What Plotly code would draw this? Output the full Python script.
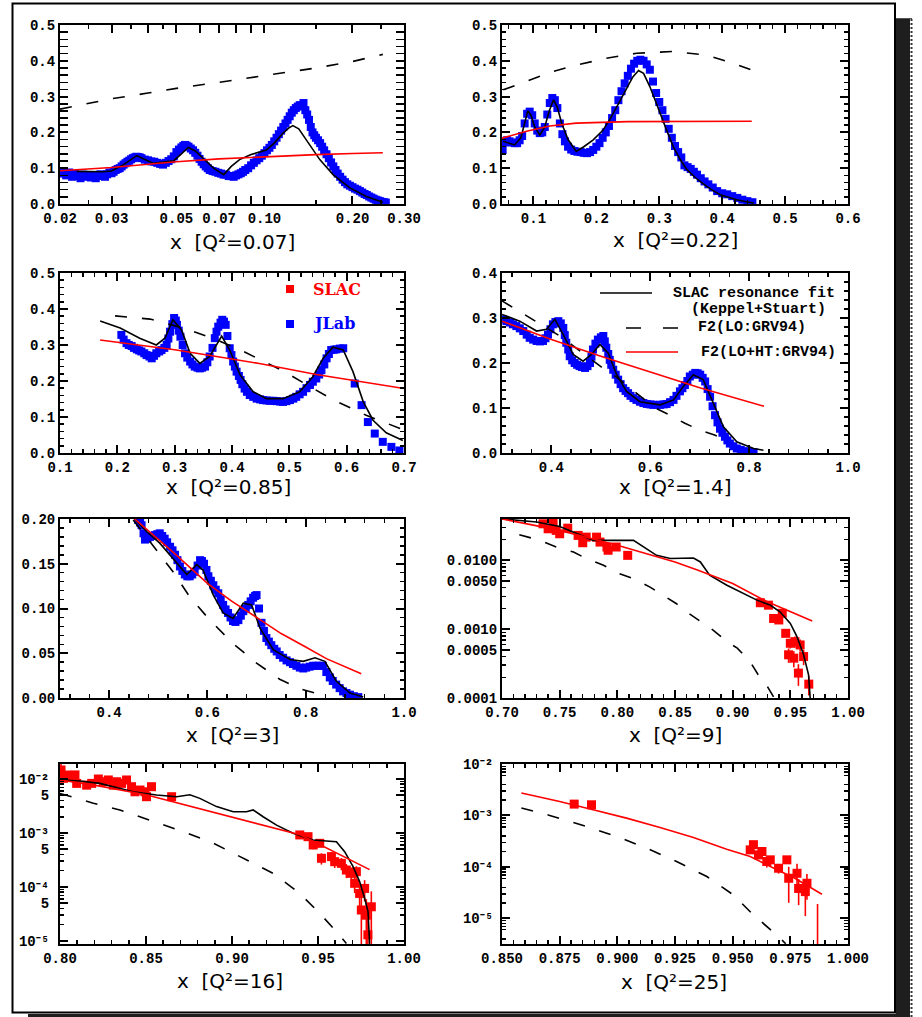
import plotly.graph_objects as go
import math

W, H = 922, 1017

# ---------------- data ----------------
# Panel 1 : Q2 = 0.07
p1_jlab_x = [0.0200,0.0205,0.0210,0.0215,0.0220,0.0225,0.0230,0.0235,0.0240,0.0245,0.0250,0.0255,0.0260,0.0265,0.0270,0.0275,0.0280,0.0285,0.0290,0.0295,0.0300,0.0305,0.0310,0.0315,0.0320,0.0325,0.0330,0.0335,0.0340,0.0345,0.0350,0.0355,0.0360,0.0365,0.0370,0.0375,0.0380,0.0390,0.0400,0.0410,0.0420,0.0430,0.0440,0.0450,0.0460,0.0470,0.0480,0.0490,0.0500,0.0510,0.0520,0.0528,0.0535,0.0542,0.0550,0.0560,0.0570,0.0580,0.0590,0.0600,0.0610,0.0620,0.0630,0.0640,0.0650,0.0665,0.0680,0.0695,0.0710,0.0725,0.0740,0.0755,0.0770,0.0785,0.0800,0.0815,0.0830,0.0845,0.0860,0.0880,0.0900,0.0920,0.0940,0.0960,0.0980,0.1000,0.1020,0.1040,0.1060,0.1080,0.1100,0.1120,0.1140,0.1160,0.1180,0.1200,0.1220,0.1240,0.1260,0.1280,0.1300,0.1320,0.1340,0.1360,0.1380,0.1400,0.1420,0.1440,0.1460,0.1480,0.1500,0.1525,0.1550,0.1575,0.1600,0.1630,0.1660,0.1690,0.1720,0.1750,0.1780,0.1815,0.1850,0.1885,0.1920,0.1960,0.2000,0.2040,0.2080,0.2120,0.2160,0.2200,0.2240,0.2280,0.2320,0.2360,0.2400,0.2440,0.2480,0.2520,0.2560,0.2600]
p1_jlab_y = [0.085,0.092,0.080,0.088,0.076,0.084,0.078,0.072,0.082,0.076,0.080,0.074,0.079,0.072,0.078,0.083,0.080,0.076,0.083,0.088,0.086,0.090,0.095,0.098,0.100,0.105,0.110,0.114,0.118,0.121,0.125,0.128,0.130,0.132,0.131,0.130,0.128,0.124,0.122,0.119,0.118,0.115,0.112,0.110,0.115,0.120,0.125,0.133,0.145,0.152,0.158,0.162,0.165,0.163,0.160,0.155,0.150,0.143,0.135,0.126,0.118,0.111,0.105,0.100,0.095,0.092,0.090,0.087,0.085,0.082,0.082,0.078,0.078,0.076,0.080,0.083,0.086,0.090,0.095,0.100,0.108,0.115,0.122,0.128,0.135,0.142,0.150,0.157,0.165,0.175,0.185,0.195,0.205,0.215,0.225,0.235,0.245,0.255,0.262,0.268,0.272,0.276,0.275,0.282,0.262,0.250,0.235,0.215,0.200,0.192,0.185,0.178,0.170,0.160,0.150,0.139,0.128,0.116,0.105,0.095,0.085,0.076,0.068,0.061,0.055,0.051,0.047,0.043,0.040,0.036,0.032,0.028,0.025,0.021,0.018,0.015,0.012,0.010,0.008,0.006,0.005,0.004]
p1_fit_x = [0.0228,0.0250,0.0280,0.0300,0.0330,0.0366,0.0390,0.0416,0.0450,0.0490,0.0520,0.0549,0.0580,0.0620,0.0670,0.0726,0.0770,0.0822,0.0900,0.1016,0.1080,0.1158,0.1210,0.1250,0.1310,0.1390,0.1470,0.1546,0.1716,0.1960,0.2230,0.2540]
p1_fit_y = [0.091,0.090,0.090,0.092,0.110,0.135,0.125,0.114,0.117,0.121,0.140,0.158,0.148,0.125,0.100,0.082,0.105,0.124,0.138,0.151,0.170,0.198,0.212,0.219,0.210,0.179,0.150,0.124,0.082,0.045,0.021,0.005]
p1_lo_x = [0.020,0.025,0.030,0.040,0.050,0.070,0.100,0.150,0.200,0.254]
p1_lo_y = [0.265,0.280,0.294,0.310,0.323,0.340,0.358,0.380,0.398,0.418]
p1_ht_x = [0.020,0.025,0.030,0.040,0.050,0.070,0.100,0.150,0.200,0.254]
p1_ht_y = [0.093,0.098,0.102,0.111,0.118,0.126,0.132,0.138,0.141,0.143]

# Panel 2 : Q2 = 0.22
p2_jlab_x = [0.050,0.051,0.054,0.058,0.062,0.066,0.070,0.074,0.078,0.082,0.086,0.090,0.094,0.098,0.102,0.106,0.110,0.114,0.118,0.122,0.126,0.130,0.134,0.138,0.142,0.146,0.150,0.155,0.160,0.165,0.170,0.175,0.180,0.185,0.190,0.195,0.200,0.205,0.210,0.215,0.220,0.225,0.230,0.235,0.240,0.245,0.250,0.255,0.260,0.265,0.270,0.275,0.280,0.285,0.290,0.295,0.300,0.305,0.310,0.315,0.320,0.325,0.330,0.335,0.340,0.345,0.350,0.355,0.360,0.366,0.372,0.378,0.385,0.392,0.400,0.408,0.416,0.424,0.432,0.440,0.448]
p2_jlab_y = [0.165,0.151,0.172,0.178,0.175,0.172,0.170,0.170,0.178,0.190,0.225,0.252,0.258,0.248,0.225,0.205,0.198,0.200,0.215,0.250,0.282,0.296,0.290,0.268,0.225,0.195,0.175,0.160,0.152,0.148,0.146,0.145,0.143,0.142,0.145,0.151,0.160,0.170,0.185,0.200,0.218,0.240,0.262,0.290,0.315,0.337,0.358,0.378,0.392,0.400,0.403,0.400,0.390,0.375,0.342,0.310,0.285,0.262,0.238,0.210,0.185,0.162,0.145,0.130,0.108,0.103,0.098,0.090,0.082,0.072,0.063,0.055,0.046,0.036,0.030,0.027,0.022,0.017,0.012,0.008,0.005]
p2_fit_x = [0.052,0.060,0.070,0.080,0.086,0.091,0.096,0.102,0.110,0.118,0.125,0.132,0.138,0.145,0.155,0.168,0.180,0.195,0.210,0.221,0.235,0.248,0.258,0.267,0.275,0.285,0.293,0.301,0.312,0.322,0.333,0.344,0.357,0.370,0.383,0.397,0.410,0.423,0.437,0.450]
p2_fit_y = [0.175,0.170,0.165,0.185,0.230,0.260,0.248,0.215,0.193,0.215,0.260,0.291,0.270,0.225,0.180,0.147,0.160,0.179,0.205,0.235,0.280,0.323,0.355,0.373,0.365,0.328,0.290,0.254,0.205,0.161,0.125,0.096,0.074,0.056,0.040,0.026,0.018,0.012,0.007,0.003]
p2_lo_x = [0.052,0.089,0.131,0.168,0.216,0.264,0.322,0.375,0.418,0.447]
p2_lo_y = [0.319,0.342,0.370,0.388,0.407,0.421,0.426,0.416,0.393,0.374]
p2_ht_x = [0.050,0.089,0.126,0.168,0.250,0.350,0.447]
p2_ht_y = [0.184,0.203,0.218,0.226,0.230,0.231,0.231]

# Panel 3 : Q2 = 0.85
p3_jlab_x = [0.207,0.211,0.216,0.220,0.225,0.229,0.234,0.238,0.242,0.247,0.251,0.256,0.260,0.264,0.268,0.273,0.277,0.282,0.286,0.289,0.292,0.296,0.299,0.302,0.304,0.307,0.310,0.314,0.318,0.322,0.327,0.331,0.335,0.340,0.344,0.348,0.353,0.357,0.361,0.366,0.370,0.373,0.376,0.380,0.383,0.386,0.389,0.392,0.396,0.399,0.402,0.405,0.408,0.412,0.415,0.418,0.422,0.426,0.431,0.437,0.443,0.449,0.454,0.460,0.466,0.472,0.478,0.484,0.489,0.495,0.501,0.507,0.512,0.518,0.524,0.530,0.536,0.541,0.547,0.552,0.556,0.561,0.565,0.569,0.573,0.578,0.582,0.588,0.594,0.614,0.626,0.637,0.649,0.663,0.678,0.692]
p3_jlab_y = [0.328,0.315,0.305,0.300,0.297,0.292,0.288,0.285,0.282,0.277,0.272,0.268,0.263,0.270,0.277,0.282,0.286,0.292,0.300,0.318,0.337,0.358,0.375,0.368,0.356,0.340,0.323,0.300,0.277,0.265,0.254,0.246,0.240,0.237,0.235,0.237,0.240,0.252,0.268,0.292,0.319,0.337,0.351,0.362,0.370,0.365,0.356,0.325,0.291,0.272,0.254,0.240,0.226,0.214,0.203,0.191,0.179,0.170,0.161,0.156,0.151,0.149,0.147,0.146,0.145,0.145,0.144,0.143,0.142,0.144,0.147,0.151,0.156,0.163,0.170,0.180,0.189,0.198,0.207,0.218,0.230,0.246,0.263,0.275,0.286,0.287,0.288,0.290,0.291,0.193,0.133,0.086,0.054,0.031,0.017,0.007]
p3_fit_x = [0.170,0.205,0.239,0.268,0.283,0.297,0.312,0.327,0.344,0.361,0.382,0.396,0.414,0.437,0.460,0.489,0.518,0.541,0.559,0.576,0.594,0.611,0.629,0.646,0.669,0.698]
p3_fit_y = [0.367,0.347,0.319,0.300,0.319,0.370,0.342,0.277,0.249,0.268,0.325,0.286,0.217,0.170,0.151,0.151,0.170,0.212,0.263,0.294,0.286,0.226,0.142,0.091,0.056,0.035]
p3_lo_x = [0.196,0.257,0.320,0.380,0.420,0.460,0.489,0.530,0.576,0.634,0.698]
p3_lo_y = [0.381,0.372,0.345,0.310,0.282,0.250,0.228,0.190,0.148,0.105,0.065]
p3_ht_x = [0.170,0.250,0.300,0.373,0.450,0.547,0.620,0.700]
p3_ht_y = [0.314,0.298,0.287,0.268,0.248,0.218,0.199,0.179]

# Panel 4 : Q2 = 1.4
p4_jlab_x = [0.302,0.309,0.316,0.322,0.329,0.336,0.343,0.350,0.356,0.363,0.370,0.377,0.383,0.388,0.393,0.398,0.403,0.408,0.414,0.419,0.424,0.427,0.430,0.434,0.437,0.442,0.447,0.452,0.457,0.462,0.468,0.473,0.478,0.481,0.484,0.489,0.494,0.500,0.505,0.508,0.511,0.515,0.518,0.521,0.525,0.530,0.535,0.540,0.545,0.550,0.555,0.560,0.566,0.572,0.579,0.586,0.593,0.600,0.606,0.613,0.620,0.627,0.633,0.640,0.647,0.653,0.660,0.665,0.670,0.675,0.680,0.686,0.691,0.696,0.701,0.706,0.711,0.716,0.721,0.726,0.731,0.736,0.741,0.746,0.751,0.756,0.761,0.768,0.775,0.783,0.792,0.800,0.809]
p4_jlab_y = [0.297,0.293,0.290,0.286,0.282,0.277,0.271,0.263,0.256,0.252,0.249,0.248,0.249,0.255,0.263,0.275,0.286,0.291,0.293,0.288,0.278,0.262,0.245,0.230,0.215,0.206,0.200,0.196,0.193,0.191,0.189,0.193,0.200,0.214,0.230,0.243,0.252,0.257,0.260,0.248,0.234,0.220,0.207,0.196,0.185,0.174,0.163,0.153,0.144,0.138,0.133,0.127,0.122,0.118,0.114,0.111,0.109,0.108,0.107,0.107,0.107,0.108,0.109,0.113,0.118,0.127,0.137,0.144,0.151,0.160,0.170,0.174,0.178,0.177,0.174,0.167,0.159,0.142,0.125,0.104,0.084,0.068,0.054,0.045,0.036,0.028,0.021,0.015,0.010,0.007,0.004,0.003,0.002]
p4_fit_x = [0.300,0.336,0.370,0.390,0.407,0.424,0.444,0.464,0.481,0.498,0.515,0.532,0.552,0.579,0.620,0.647,0.667,0.687,0.707,0.728,0.748,0.775,0.809,0.829]
p4_fit_y = [0.308,0.293,0.271,0.275,0.297,0.263,0.219,0.204,0.219,0.241,0.222,0.174,0.137,0.114,0.107,0.118,0.148,0.174,0.163,0.110,0.058,0.025,0.010,0.006]
p4_lo_x = [0.30,0.33,0.35,0.38,0.42,0.46,0.50,0.53,0.57,0.61,0.64,0.67,0.70,0.73,0.76]
p4_lo_y = [0.338,0.318,0.305,0.285,0.258,0.225,0.192,0.170,0.135,0.100,0.084,0.066,0.051,0.040,0.027]
p4_ht_x = [0.30,0.40,0.50,0.60,0.70,0.83]
p4_ht_y = [0.293,0.252,0.215,0.180,0.145,0.104]

# Panel 5 : Q2 = 3
p5_jlab_x = [0.459,0.463,0.466,0.470,0.473,0.478,0.483,0.488,0.493,0.498,0.503,0.508,0.513,0.518,0.524,0.529,0.534,0.539,0.544,0.549,0.554,0.559,0.564,0.569,0.574,0.580,0.585,0.589,0.593,0.598,0.602,0.607,0.612,0.617,0.622,0.627,0.632,0.637,0.642,0.647,0.652,0.657,0.663,0.668,0.673,0.678,0.683,0.688,0.693,0.697,0.700,0.705,0.710,0.715,0.720,0.725,0.730,0.736,0.741,0.747,0.754,0.761,0.768,0.774,0.781,0.788,0.795,0.801,0.808,0.815,0.822,0.828,0.835,0.842,0.849,0.855,0.862,0.869,0.876,0.883,0.890,0.898,0.907]
p5_jlab_y = [0.199,0.196,0.193,0.184,0.177,0.178,0.180,0.181,0.182,0.183,0.184,0.181,0.178,0.174,0.169,0.165,0.160,0.154,0.147,0.142,0.138,0.136,0.136,0.138,0.141,0.148,0.154,0.153,0.150,0.143,0.136,0.131,0.126,0.121,0.117,0.110,0.104,0.099,0.095,0.090,0.086,0.085,0.087,0.092,0.097,0.100,0.104,0.108,0.112,0.114,0.115,0.100,0.084,0.075,0.067,0.063,0.059,0.055,0.052,0.048,0.045,0.042,0.040,0.038,0.036,0.034,0.033,0.034,0.035,0.036,0.036,0.036,0.036,0.029,0.023,0.019,0.015,0.011,0.0074,0.0055,0.0037,0.002,0.001]
p5_fit_x = [0.452,0.476,0.503,0.530,0.558,0.578,0.591,0.612,0.632,0.652,0.673,0.690,0.707,0.734,0.768,0.795,0.819,0.839,0.862,0.890,0.917]
p5_fit_y = [0.200,0.186,0.173,0.156,0.138,0.149,0.143,0.115,0.095,0.089,0.106,0.104,0.078,0.054,0.043,0.041,0.045,0.041,0.019,0.0056,0.001]
p5_lo_x = [0.449,0.490,0.530,0.564,0.605,0.652,0.700,0.747,0.790,0.830]
p5_lo_y = [0.199,0.169,0.141,0.113,0.087,0.061,0.039,0.021,0.010,0.004]
p5_ht_x = [0.452,0.490,0.530,0.600,0.650,0.700,0.750,0.800,0.842,0.913]
p5_ht_y = [0.200,0.182,0.163,0.128,0.108,0.090,0.072,0.057,0.044,0.027]

# Panel 6 : Q2 = 9
p6_slac_x = [0.7356,0.7400,0.7443,0.7470,0.7500,0.7570,0.7660,0.7700,0.7730,0.7820,0.7850,0.7910,0.7920,0.7990,0.8090,0.9240,0.9310,0.9355,0.9400,0.9430,0.9460,0.9500,0.9540,0.9585,0.9485,0.9530,0.9615,0.9570,0.9660]
p6_slac_y = [0.0339,0.0287,0.0358,0.0272,0.0243,0.0293,0.0230,0.0180,0.0217,0.0217,0.0184,0.0156,0.0140,0.0156,0.0118,0.00242,0.00223,0.00143,0.00136,0.00170,0.00087,0.000624,0.000659,0.00059,0.000424,0.000379,0.00040,0.00023,0.000159]
p6_slac_err = [0.002,0.002,0.002,0.002,0.0015,0.0015,0.0015,0.0012,0.0012,0.0012,0.0012,0.001,0.001,0.001,0.0008,0.00015,0.00015,0.00015,0.00015,0.00015,0.0001,0.0001,0.00012,0.00012,0.0001,0.0001,0.0001,0.00008,0.00005]
p6_fit_x = [0.700,0.730,0.750,0.779,0.814,0.834,0.846,0.857,0.866,0.872,0.880,0.895,0.909,0.921,0.9325,0.941,0.950,0.9557,0.9615,0.9658,0.9672]
p6_fit_y = [0.040,0.036,0.031,0.0195,0.0195,0.0118,0.0106,0.0106,0.0108,0.00946,0.00607,0.00435,0.0033,0.00264,0.00224,0.00179,0.00121,0.00078,0.000424,0.000217,0.0001]
p6_lo_x = [0.715,0.733,0.747,0.762,0.773,0.788,0.802,0.814,0.828,0.837,0.851,0.860,0.875,0.883,0.895,0.904,0.915,0.922,0.930,0.936]
p6_lo_y = [0.0235,0.0195,0.0156,0.0132,0.0106,0.00847,0.0064,0.00543,0.00411,0.0033,0.00236,0.00179,0.00121,0.00097,0.00066,0.00053,0.00034,0.00022,0.000148,0.0001]
p6_ht_x = [0.700,0.750,0.800,0.850,0.870,0.900,0.930,0.969]
p6_ht_y = [0.040,0.0272,0.0165,0.00946,0.00716,0.0046,0.0025,0.00131]

# Panel 7 : Q2 = 16
p7_slac_x = [0.8006,0.8020,0.8039,0.8068,0.8087,0.8097,0.8155,0.8184,0.8223,0.8252,0.8281,0.8310,0.8330,0.8358,0.8387,0.8416,0.8436,0.8465,0.8494,0.8503,0.8532,0.8649,0.9394,0.9442,0.9472,0.9510,0.9520,0.9578,0.9597,0.9636,0.9665,0.9694,0.9723,0.9713,0.9742,0.9771,0.9752,0.9781,0.9810,0.9790]
p7_slac_y = [0.0147,0.0103,0.01185,0.0110,0.0119,0.0083,0.0077,0.0083,0.0100,0.0089,0.0096,0.0077,0.0089,0.0083,0.0096,0.0072,0.0058,0.00625,0.0058,0.0047,0.0072,0.0047,0.00092,0.000855,0.00060,0.000644,0.00034,0.000365,0.000294,0.000274,0.000206,0.000179,0.000192,0.000117,7.6e-5,9.4e-5,3.75e-5,3.0e-5,4.3e-5,1.3e-5]
p7_slac_err = [0.005,0.001,0.001,0.001,0.001,0.0008,0.0008,0.0008,0.0008,0.0008,0.0008,0.0008,0.0008,0.0008,0.0008,0.0007,0.0006,0.0006,0.0006,0.0005,0.0006,0.0005,0.00012,0.00012,0.0001,0.0001,0.00008,0.00008,0.00007,0.00007,0.00006,0.00005,0.00005,0.00004,0.00004,0.00004,0.00003,0.0000295,0.00004,0.0000125]
p7_fit_x = [0.8006,0.8116,0.8232,0.8426,0.8561,0.8678,0.8755,0.8813,0.8910,0.9007,0.9084,0.9123,0.9181,0.9259,0.9355,0.9471,0.9607,0.9655,0.9704,0.9742,0.9771,0.9791,0.9800]
p7_fit_y = [0.0096,0.0092,0.0083,0.0058,0.00506,0.0047,0.0051,0.00438,0.00308,0.00248,0.00248,0.00267,0.0020,0.0014,0.00099,0.00074,0.00069,0.00045,0.000238,0.000126,6.2e-5,3.5e-5,9e-6]
p7_lo_x = [0.800,0.8194,0.8348,0.8542,0.8716,0.8891,0.9084,0.9239,0.9394,0.9510,0.9607,0.9665]
p7_lo_y = [0.0054,0.00355,0.00267,0.00162,0.00106,0.00065,0.00032,0.000179,7.6e-5,3.25e-5,1.49e-5,9e-6]
p7_ht_x = [0.80,0.82,0.85,0.90,0.94,0.98]
p7_ht_y = [0.0096,0.0077,0.0051,0.0020,0.00092,0.00021]

# Panel 8 : Q2 = 25
p8_slac_x = [0.8813,0.8888,0.9576,0.9590,0.9612,0.9627,0.9648,0.9663,0.9699,0.9735,0.9743,0.9779,0.9786,0.9822,0.9815,0.9868]
p8_slac_y = [0.00166,0.00161,0.000214,0.00027,0.000171,0.000199,0.000127,0.000137,9.4e-5,0.000137,6.0e-5,7.5e-5,3.8e-5,4.8e-5,3.3e-5,2.0e-6]
p8_slac_err = [0.0001,0.0001,0.00003,0.00004,0.00003,0.00003,0.00003,0.00002,0.00002,0.00002,0.00004,0.00004,0.00002,0.000025,0.000022,0.000017]
p8_lo_x = [0.8584,0.8707,0.8866,0.8997,0.9127,0.9257,0.9388,0.9503,0.9590,0.9692,0.9730]
p8_lo_y = [0.00139,0.0010,0.00061,0.00039,0.000231,0.000127,6.5e-5,2.85e-5,1.16e-5,4.7e-6,3.2e-6]
p8_ht_x = [0.8584,0.8750,0.8895,0.9040,0.9185,0.9330,0.9474,0.9576,0.9692,0.9764,0.9887]
p8_ht_y = [0.00272,0.00187,0.00129,0.000887,0.000583,0.000372,0.000221,0.000159,8.75e-5,6.19e-5,2.94e-5]

titles = ["0.07", "0.22", "0.85", "1.4", "3", "9", "16", "25"]

# ---------------- styling ----------------
BLUE = "#0000ff"
RED = "#ff0000"
DASH = "12px,15px"
TICKFONT = dict(family="Liberation Mono", size=14, color="black", weight="bold")
TITLEFONT = dict(family="DejaVu Sans", size=20, color="black")

# plot-area boxes in pixels: left, right, top, bottom
boxes = {1: (60, 404, 25, 204), 2: (502, 848, 25, 204),
         3: (60, 404, 273, 453), 4: (502, 848, 273, 453),
         5: (60, 404, 519, 698), 6: (502, 848, 519, 698),
         7: (60, 404, 764, 944), 8: (502, 848, 764, 944)}

def PX(px):
    return px / W

def PY(py):
    return 1 - py / H

def refs(i):
    return ("x" if i == 1 else f"x{i}"), ("y" if i == 1 else f"y{i}")

fig = go.Figure()

def add_jlab(i, xs, ys):
    xr, yr = refs(i)
    fig.add_trace(go.Scatter(x=xs, y=ys, mode="markers", xaxis=xr, yaxis=yr,
                             marker=dict(symbol="square", size=8, color=BLUE, line=dict(width=0)),
                             showlegend=False, hoverinfo="skip"))

def add_slac(i, xs, ys, err):
    xr, yr = refs(i)
    fig.add_trace(go.Scatter(x=xs, y=ys, mode="markers", xaxis=xr, yaxis=yr,
                             marker=dict(symbol="square", size=9, color=RED, line=dict(width=0)),
                             error_y=dict(type="data", array=err, color=RED, thickness=1.6, width=0),
                             showlegend=False, hoverinfo="skip"))

def add_line(i, xs, ys, color, dash=None):
    xr, yr = refs(i)
    fig.add_trace(go.Scatter(x=xs, y=ys, mode="lines", xaxis=xr, yaxis=yr,
                             line=dict(color=color, width=1.6, dash=dash),
                             showlegend=False, hoverinfo="skip"))

add_jlab(1, p1_jlab_x, p1_jlab_y)
add_jlab(2, p2_jlab_x, p2_jlab_y)
add_jlab(3, p3_jlab_x, p3_jlab_y)
add_jlab(4, p4_jlab_x, p4_jlab_y)
add_jlab(5, p5_jlab_x, p5_jlab_y)
add_slac(6, p6_slac_x, p6_slac_y, p6_slac_err)
add_slac(7, p7_slac_x, p7_slac_y, p7_slac_err)
add_slac(8, p8_slac_x, p8_slac_y, p8_slac_err)

for i, fx, fy in [(1, p1_fit_x, p1_fit_y), (2, p2_fit_x, p2_fit_y), (3, p3_fit_x, p3_fit_y),
                  (4, p4_fit_x, p4_fit_y), (5, p5_fit_x, p5_fit_y), (6, p6_fit_x, p6_fit_y),
                  (7, p7_fit_x, p7_fit_y)]:
    add_line(i, fx, fy, "black")
for i, lx, ly in [(1, p1_lo_x, p1_lo_y), (2, p2_lo_x, p2_lo_y), (3, p3_lo_x, p3_lo_y),
                  (4, p4_lo_x, p4_lo_y), (5, p5_lo_x, p5_lo_y), (6, p6_lo_x, p6_lo_y),
                  (7, p7_lo_x, p7_lo_y), (8, p8_lo_x, p8_lo_y)]:
    add_line(i, lx, ly, "black", DASH)
for i, hx, hy in [(1, p1_ht_x, p1_ht_y), (2, p2_ht_x, p2_ht_y), (3, p3_ht_x, p3_ht_y),
                  (4, p4_ht_x, p4_ht_y), (5, p5_ht_x, p5_ht_y), (6, p6_ht_x, p6_ht_y),
                  (7, p7_ht_x, p7_ht_y), (8, p8_ht_x, p8_ht_y)]:
    add_line(i, hx, hy, RED)

# empty trace that carries the extra (unlabelled) major ticks of panel 1
fig.add_trace(go.Scatter(x=[], y=[], xaxis="x9", yaxis="y", showlegend=False, hoverinfo="skip"))

# ---------------- axes ----------------
def base_axis():
    return dict(showline=True, linecolor="black", linewidth=2, mirror="allticks",
                ticks="inside", ticklen=8, tickwidth=2, tickcolor="black",
                showgrid=False, zeroline=False, tickfont=TICKFONT, fixedrange=True,
                automargin=False)

def mults(decades):
    out = []
    for d in decades:
        for m in (2, 3, 4, 6, 7, 8, 9):
            out.append(m * 10 ** d)
    return out

lin = lambda a, b, s: [round(a + k * s, 6) for k in range(int(round((b - a) / s)) + 1)]

SUP = {"-": "⁻", "2": "²", "3": "³", "4": "⁴", "5": "⁵"}
def pow10(n):
    return "10" + "".join(SUP[c] for c in str(n))

xspec = {
    1: dict(type="log", range=[math.log10(0.02), math.log10(0.30)],
            tickvals=[0.02, 0.03, 0.05, 0.07, 0.10, 0.20, 0.30],
            ticktext=["0.02", "0.03", "0.05", "0.07", "0.10", "0.20", "0.30"],
            minor_vals=[0.025, 0.035, 0.045, 0.15, 0.25]),
    2: dict(range=[0.05, 0.6], tickvals=lin(0.1, 0.6, 0.1), fmt="%.1f", mdt=0.02),
    3: dict(range=[0.1, 0.7], tickvals=lin(0.1, 0.7, 0.1), fmt="%.1f", mdt=0.02),
    4: dict(range=[0.3, 1.0], tickvals=lin(0.4, 1.0, 0.2), fmt="%.1f", mdt=0.04),
    5: dict(range=[0.3, 1.0], tickvals=lin(0.4, 1.0, 0.2), fmt="%.1f", mdt=0.04),
    6: dict(range=[0.7, 1.0], tickvals=lin(0.7, 1.0, 0.05), fmt="%.2f", mdt=0.01),
    7: dict(range=[0.8, 1.0], tickvals=lin(0.8, 1.0, 0.05), fmt="%.2f", mdt=0.01),
    8: dict(range=[0.85, 1.0], tickvals=lin(0.85, 1.0, 0.025), fmt="%.3f", mdt=0.005),
}
yspec = {
    1: dict(range=[0, 0.5], tickvals=lin(0, 0.5, 0.1), fmt="%.1f", mdt=0.02),
    2: dict(range=[0, 0.5], tickvals=lin(0, 0.5, 0.1), fmt="%.1f", mdt=0.02),
    3: dict(range=[0, 0.5], tickvals=lin(0, 0.5, 0.1), fmt="%.1f", mdt=0.02),
    4: dict(range=[0, 0.4], tickvals=lin(0, 0.4, 0.1), fmt="%.1f", mdt=0.02),
    5: dict(range=[0, 0.2], tickvals=lin(0, 0.2, 0.05), fmt="%.2f", mdt=0.01),
    6: dict(type="log", range=[-4, -1.40],
            tickvals=[0.0001, 0.0005, 0.001, 0.005, 0.01],
            ticktext=["0.0001", "0.0005", "0.0010", "0.0050", "0.0100"],
            minor_vals=mults([-4, -3, -2])),
    7: dict(type="log", range=[-5.056, -1.722],
            tickvals=[1e-5, 5e-5, 1e-4, 5e-4, 1e-3, 5e-3, 1e-2],
            ticktext=[pow10(-5), "5", pow10(-4), "5", pow10(-3), "5", pow10(-2)],
            minor_vals=mults([-6, -5, -4, -3, -2]), standoff=6),
    8: dict(type="log", range=[-5.5, -2.0],
            tickvals=[1e-5, 1e-4, 1e-3, 1e-2],
            ticktext=[pow10(-5), pow10(-4), pow10(-3), pow10(-2)],
            minor_vals=mults([-6, -5, -4, -3]), standoff=4),
}

def build_axis(spec):
    a = base_axis()
    a["range"] = spec["range"]
    if spec.get("type") == "log":
        a["type"] = "log"
    a["tickmode"] = "array"
    a["tickvals"] = spec["tickvals"]
    if "ticktext" in spec:
        a["ticktext"] = spec["ticktext"]
    else:
        a["ticktext"] = [spec["fmt"] % v for v in spec["tickvals"]]
    minor = dict(ticks="inside", ticklen=4, tickwidth=1.5, tickcolor="black", showgrid=False)
    if "minor_vals" in spec:
        minor["tickmode"] = "array"
        minor["tickvals"] = spec["minor_vals"]
    else:
        minor["tickmode"] = "linear"
        minor["tick0"] = 0
        minor["dtick"] = spec["mdt"]
    a["minor"] = minor
    if "standoff" in spec:
        a["ticklabelstandoff"] = spec["standoff"]
    return a

layout_axes = {}
for i in range(1, 9):
    l, r, t, b = boxes[i]
    xa = build_axis(xspec[i])
    ya = build_axis(yspec[i])
    xr, yr = refs(i)
    xa["domain"] = [PX(l), PX(r)]
    ya["domain"] = [PY(b), PY(t)]
    xa["anchor"] = yr
    ya["anchor"] = xr
    layout_axes["xaxis" if i == 1 else f"xaxis{i}"] = xa
    layout_axes["yaxis" if i == 1 else f"yaxis{i}"] = ya

# extra long ticks (0.04, 0.06, 0.08, 0.09) on panel 1's log axis, without labels
layout_axes["xaxis9"] = dict(type="log", range=[math.log10(0.02), math.log10(0.30)],
                             overlaying="x", anchor="y", domain=[PX(60), PX(404)],
                             tickmode="array", tickvals=[0.04, 0.06, 0.08, 0.09],
                             showticklabels=False, ticks="inside", ticklen=8, tickwidth=2,
                             tickcolor="black", mirror="allticks", showline=True,
                             linecolor="black", linewidth=2, showgrid=False, zeroline=False,
                             fixedrange=True, automargin=False)

# ---------------- annotations ----------------
ann = []
title_pos = {1: (232, 242), 2: (675, 240), 3: (228, 487), 4: (675, 487),
             5: (232, 735), 6: (675, 735), 7: (230, 981), 8: (674, 982)}
for i in range(1, 9):
    cx, cy = title_pos[i]
    ann.append(dict(x=PX(cx), y=PY(cy), xref="paper", yref="paper", showarrow=False,
                    text=f"x  [Q²={titles[i-1]}]", font=TITLEFONT,
                    xanchor="center", yanchor="middle"))

LEGFONT_SERIF = dict(family="DejaVu Serif", size=16, weight="bold")
ann.append(dict(x=PX(311), y=PY(289), xref="paper", yref="paper", showarrow=False, text="SLAC",
                font=dict(color=RED, **LEGFONT_SERIF), xanchor="left", yanchor="middle"))
ann.append(dict(x=PX(311), y=PY(323), xref="paper", yref="paper", showarrow=False, text="JLab",
                font=dict(color=BLUE, **LEGFONT_SERIF), xanchor="left", yanchor="middle"))

LEGFONT_MONO = dict(family="Liberation Mono", size=15, color="black", weight="bold")
for txt, cx, cy in [("SLAC resonance fit", 754, 293), ("(Keppel+Stuart)", 758, 310),
                    ("F2(LO:GRV94)", 752, 328), ("F2(LO+HT:GRV94)", 768, 352)]:
    ann.append(dict(x=PX(cx), y=PY(cy), xref="paper", yref="paper", showarrow=False, text=txt,
                    font=LEGFONT_MONO, xanchor="center", yanchor="middle"))

# ---------------- shapes (legend samples, page frame) ----------------
shapes = []
for (cx, cy, col) in [(290, 289, RED), (290, 324, BLUE)]:
    shapes.append(dict(type="rect", xref="paper", yref="paper",
                       x0=PX(cx - 4), x1=PX(cx + 4), y0=PY(cy + 4), y1=PY(cy - 4),
                       fillcolor=col, line=dict(width=0)))
shapes.append(dict(type="line", xref="paper", yref="paper", x0=PX(600), x1=PX(652), y0=PY(293), y1=PY(293),
                   line=dict(color="black", width=1.6)))
shapes.append(dict(type="line", xref="paper", yref="paper", x0=PX(626), x1=PX(680), y0=PY(328), y1=PY(328),
                   line=dict(color="black", width=1.6, dash="15px,22px")))
shapes.append(dict(type="line", xref="paper", yref="paper", x0=PX(626), x1=PX(678), y0=PY(352), y1=PY(352),
                   line=dict(color=RED, width=1.6)))

# white margin left of the page frame (clips labels there)
shapes.append(dict(type="rect", xref="paper", yref="paper", x0=0, x1=PX(11.5), y0=0, y1=1,
                   fillcolor="white", line=dict(width=0), layer="above"))
# page frame
shapes.append(dict(type="rect", xref="paper", yref="paper", x0=PX(12.5), x1=PX(895), y0=PY(1012.5), y1=PY(3.5),
                   line=dict(color="black", width=2), fillcolor="rgba(0,0,0,0)", layer="above"))
# dark shadow on the right and bottom
shapes.append(dict(type="rect", xref="paper", yref="paper", x0=PX(896), x1=PX(910), y0=0, y1=PY(18.5),
                   fillcolor="#1e1e1e", line=dict(width=0), layer="above"))
shapes.append(dict(type="line", xref="paper", yref="paper", x0=PX(896), x1=PX(912), y0=PY(18.5), y1=PY(18.5),
                   line=dict(color="#555555", width=1), layer="above"))
shapes.append(dict(type="line", xref="paper", yref="paper", x0=PX(911.5), x1=PX(911.5), y0=0, y1=PY(18.5),
                   line=dict(color="#333333", width=2, dash="2px,2px"), layer="above"))
shapes.append(dict(type="rect", xref="paper", yref="paper", x0=PX(28), x1=PX(910), y0=0, y1=PY(1014),
                   fillcolor="#1e1e1e", line=dict(width=0), layer="above"))

fig.update_layout(width=W, height=H, margin=dict(l=0, r=0, t=0, b=0, autoexpand=False),
                  paper_bgcolor="white", plot_bgcolor="white",
                  showlegend=False, annotations=ann, shapes=shapes, **layout_axes)

fig.write_html("out.html",
               config={"displayModeBar": False, "staticPlot": True},
               post_script="document.body.style.margin='0px';document.body.style.overflow='hidden';")
